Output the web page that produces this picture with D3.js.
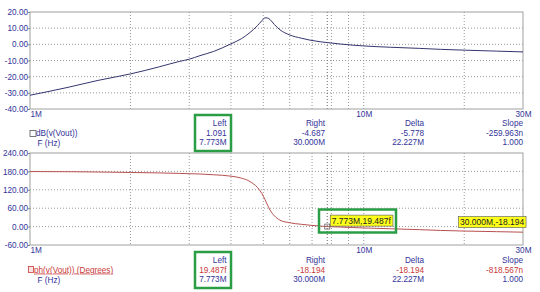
<!DOCTYPE html>
<html lang="en">
<head>
<meta charset="UTF-8">
<title>dB and phase of v(Vout)</title>
<style>
body { margin: 0; background: #fff; }
svg { display: block; font-family: "Liberation Sans", Arial, sans-serif; }
.axis text { font-size: 8.2px; fill: #333399; }
.axis line { stroke: #888; }
.axis path { display: none; }
.grid line { stroke: #999; stroke-dasharray: 1,2; }
.readout text { font-size: 8.2px; }
</style>
</head>
<body>
<svg class="chart"></svg>
<script src="https://d3js.org/d3.v7.min.js"></script>
<script>
// frequency points (MHz)
var freqMHz = [1, 1.3, 1.6, 2, 2.45, 2.8, 3, 3.23, 3.55, 4, 4.3, 4.56, 4.8, 4.95, 5.06, 5.15,
  5.24, 5.4, 5.61, 6, 6.5, 6.9, 7.4, 7.773, 8.5, 10, 12, 14.7, 17, 20, 25, 30];
// dB(v(Vout))
var gainDb = [-31.5, -26.6, -22.3, -18.3, -13.8, -10.6, -9.2, -7, -4.4, 0.3, 3.5, 7.3, 11.5, 14.6, 16.4, 16.3,
  15.3, 12.2, 9, 5.8, 3.8, 2.6, 1.6, 1.091, 0.2, -1.0, -1.8, -2.5, -3.1, -3.6, -4.2, -4.687];
// ph(v(Vout)) in degrees
var phaseDeg = [179.5, 179, 178, 176.5, 175, 173.5, 172.5, 171.5, 169, 164.5, 158, 147, 128, 108, 88, 70,
  54, 35, 21, 12.5, 7.5, 4.5, 1.8, 0, -1.5, -4.5, -7, -10, -12.5, -14.5, -16.5, -18.194];

var gridFreqs = [2, 3, 4, 5, 6, 7, 8, 9, 10, 20];
var xTickVals = [1, 10, 30];
var xTickText = ["1M", "10M", "30M"];
var dbTicks = [20, 10, 0, -10, -20, -30, -40];
var phTicks = [240, 180, 120, 60, 0, -60];

var cursorF = 7.773;
var colHeads = ["Left", "Right", "Delta", "Slope"];
var dbRow = ["1.091", "-4.687", "-5.778", "-259.963n"];
var dbFreqRow = ["7.773M", "30.000M", "22.227M", "1.000"];
var phRow = ["19.487f", "-18.194", "-18.194", "-818.567n"];
var phFreqRow = ["7.773M", "30.000M", "22.227M", "1.000"];

var W = 540, H = 292;
var blue = "#333399", red = "#c83a3a", green = "#2a9d45";

var svg = d3.select(".chart").attr("width", W).attr("height", H);

var x = d3.scaleLog().domain([1, 30]).range([30, 523]);
var yDb = d3.scaleLinear().domain([-40, 20]).range([109, 12]);
var yPh = d3.scaleLinear().domain([-60, 240]).range([245, 153]);

function panel(y, ticks, vals, color) {
  var top = y.range()[1], bot = y.range()[0];
  var g = svg.append("g");

  // dotted grid
  g.append("g").attr("class", "grid").selectAll("line.v")
    .data(gridFreqs).enter().append("line")
    .attr("x1", d => x(d)).attr("x2", d => x(d))
    .attr("y1", top).attr("y2", bot);
  g.append("g").attr("class", "grid").selectAll("line.h")
    .data(ticks.slice(1, -1)).enter().append("line")
    .attr("x1", x.range()[0]).attr("x2", x.range()[1])
    .attr("y1", d => y(d)).attr("y2", d => y(d));

  // cursor line
  g.append("line")
    .attr("x1", x(cursorF)).attr("x2", x(cursorF))
    .attr("y1", top).attr("y2", bot)
    .attr("stroke", "#666").attr("stroke-dasharray", "1,2");

  g.append("rect")
    .attr("x", x.range()[0]).attr("y", top)
    .attr("width", x.range()[1] - x.range()[0]).attr("height", bot - top)
    .attr("fill", "none").attr("stroke", "#a0a0a0");

  g.append("g").attr("class", "axis")
    .attr("transform", "translate(" + x.range()[0] + ",0)")
    .call(d3.axisLeft(y).tickValues(ticks).tickSize(2).tickPadding(0)
      .tickFormat(d => d.toFixed(2)));

  var xa = g.append("g").attr("class", "axis")
    .attr("transform", "translate(0," + bot + ")")
    .call(d3.axisBottom(x).tickValues(xTickVals).tickSize(0).tickPadding(2)
      .tickFormat((d, i) => xTickText[i]));
  xa.selectAll("text").attr("text-anchor", (d, i) => i == 0 ? "start" : "middle");

  var line = d3.line()
    .x((d, i) => x(freqMHz[i]))
    .y(d => y(d))
    .curve(d3.curveMonotoneX);
  g.append("path").datum(vals)
    .attr("d", line)
    .attr("fill", "none")
    .attr("stroke", color)
    .attr("stroke-width", 1);
  return g;
}

panel(yDb, dbTicks, gainDb, "#35356e");
panel(yPh, phTicks, phaseDeg, "#b85050");

// readout tables under each plot
var colRight = [226.5, 325, 424, 523];
function readout(baseY, valRow, freqRow, valColor) {
  var g = svg.append("g").attr("class", "readout");
  var rows = [[colHeads, blue], [valRow, valColor], [freqRow, blue]];
  rows.forEach(function(r, ri) {
    g.selectAll(null).data(r[0]).enter().append("text")
      .attr("x", (d, i) => colRight[i])
      .attr("y", baseY + ri * 9.7)
      .attr("text-anchor", "end")
      .attr("fill", r[1])
      .text(d => d);
  });
  // green highlight round the Left column
  g.append("rect")
    .attr("x", 195).attr("y", baseY - 11)
    .attr("width", 36).attr("height", 36)
    .attr("fill", "none").attr("stroke", green).attr("stroke-width", 2.5);
  return g;
}

var r1 = readout(126, dbRow, dbFreqRow, blue);
r1.append("rect").attr("x", 30).attr("y", 130.5).attr("width", 6).attr("height", 6)
  .attr("fill", "#fff").attr("stroke", "#555").attr("stroke-width", 0.8);
r1.append("text").attr("x", 36).attr("y", 136).attr("fill", blue).text("dB(v(Vout))");
r1.append("text").attr("x", 37.5).attr("y", 145.5).attr("fill", blue).text("F (Hz)");

var r2 = readout(263, phRow, phFreqRow, red);
r2.append("rect").attr("x", 28.5).attr("y", 266.5).attr("width", 5).attr("height", 6)
  .attr("fill", "#fbe3e3").attr("stroke", red).attr("stroke-width", 0.8);
r2.append("text").attr("x", 34).attr("y", 272.5).attr("fill", red)
  .attr("text-decoration", "underline").text("ph(v(Vout)) (Degrees)");
r2.append("text").attr("x", 37.5).attr("y", 282.5).attr("fill", blue).text("F (Hz)");

// point labels on the phase plot
var cx = x(cursorF), cy = yPh(0);
svg.append("rect").attr("x", cx - 2.5).attr("y", cy - 2.5).attr("width", 5).attr("height", 5)
  .attr("fill", "none").attr("stroke", "#666").attr("stroke-width", 0.8);

function tag(px, py, txt) {
  var t = svg.append("text").attr("x", px + 2).attr("y", py + 3)
    .attr("font-size", "8.5px").attr("fill", "#222").text(txt);
  var b = t.node().getBBox();
  svg.insert("rect", function() { return t.node(); })
    .attr("x", b.x - 1.5).attr("y", py - 5.5)
    .attr("width", b.width + 3).attr("height", 11)
    .attr("fill", "#ffff1a").attr("stroke", "#555").attr("stroke-width", 0.6);
}
tag(cx + 2.5, cy - 6, cursorF.toFixed(3) + "M," + phRow[0]);
tag(458, yPh(0) - 4.5, "30.000M," + phRow[1]);

svg.append("rect")
  .attr("x", 319).attr("y", 209.5).attr("width", 77).attr("height", 23)
  .attr("fill", "none").attr("stroke", green).attr("stroke-width", 2.5);
</script>
</body>
</html>
